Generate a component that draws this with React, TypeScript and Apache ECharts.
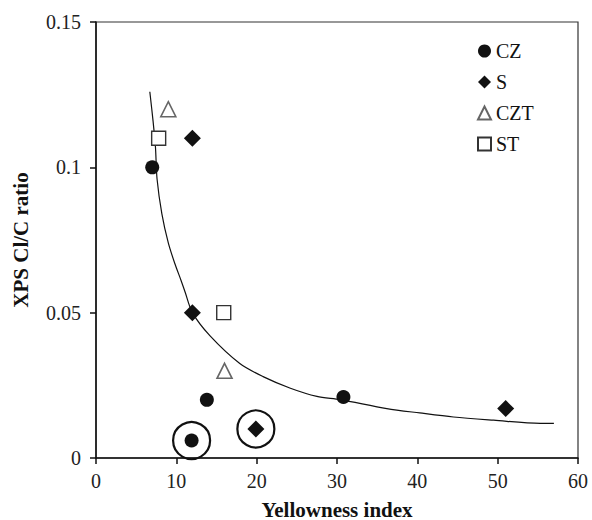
import React, { useEffect, useRef } from "react";
import * as echarts from "echarts";

// Data
const czX = [7.0, 13.8, 11.9, 30.8];
const czY = [0.1, 0.02, 0.006, 0.021];
const sX = [12.0, 12.0, 19.9, 51.0];
const sY = [0.11, 0.05, 0.01, 0.017];
const cztX = [9.0, 16.0];
const cztY = [0.12, 0.03];
const stX = [7.8, 15.9];
const stY = [0.11, 0.05];
const ringX = [11.9, 19.9];
const ringY = [0.006, 0.01];
const curveX = [6.7, 7.1, 7.4, 7.6, 8.2, 9.0, 9.8, 10.6, 11.1, 12.0, 14.2, 17.9, 20.8, 24.2, 27.5, 30.4, 36.2, 40.3, 44.5, 49.5, 55.3, 57.0];
const curveY = [0.126, 0.116, 0.107, 0.096, 0.084, 0.074, 0.067, 0.061, 0.057, 0.05, 0.042, 0.0325, 0.028, 0.024, 0.0212, 0.0201, 0.017, 0.0155, 0.0141, 0.013, 0.0119, 0.0119];
const legendNames = ["CZ", "S", "CZT", "ST"];

const zip = (xs: number[], ys: number[]) => xs.map((x, i) => [x, ys[i]]);

const FONT = "Liberation Serif";

export default function App() {
  const ref = useRef<HTMLDivElement>(null);
  useEffect(() => {
    if (!ref.current) return;
    const chart = echarts.init(ref.current, undefined, { renderer: "svg" });
    chart.setOption({
      animation: false,
      backgroundColor: "#fff",
      textStyle: { fontFamily: FONT },
      grid: {
        left: 96,
        right: 14,
        top: 22,
        bottom: 62,
        outerBoundsMode: "none",
        containLabel: false,
        show: true,
        borderColor: "#333",
        borderWidth: 1.2,
      },
      legend: {
        data: legendNames,
        orient: "vertical",
        left: 477,
        top: 41,
        padding: 0,
        itemWidth: 13,
        itemHeight: 13,
        itemGap: 11,
        textStyle: { fontFamily: FONT, fontSize: 20, color: "#111" },
      },
      xAxis: {
        type: "value",
        min: 0,
        max: 60,
        interval: 10,
        name: "Yellowness index",
        nameLocation: "middle",
        nameGap: 41,
        nameTextStyle: { fontFamily: FONT, fontSize: 21, fontWeight: "bold", color: "#111" },
        axisLine: { show: true, lineStyle: { color: "#111", width: 1.5 } },
        axisTick: { show: true, length: 6, lineStyle: { color: "#111", width: 1.5 } },
        axisLabel: { fontFamily: FONT, fontSize: 20, color: "#222", margin: 13 },
        splitLine: { show: false },
      },
      yAxis: {
        type: "value",
        min: 0,
        max: 0.15,
        interval: 0.05,
        name: "XPS Cl/C ratio",
        nameLocation: "middle",
        nameGap: 65,
        nameTextStyle: { fontFamily: FONT, fontSize: 21, fontWeight: "bold", color: "#111" },
        axisLine: { show: true, lineStyle: { color: "#111", width: 1.5 } },
        axisTick: { show: true, length: 6, lineStyle: { color: "#111", width: 1.5 } },
        axisLabel: { fontFamily: FONT, fontSize: 20, color: "#222", margin: 15 },
        splitLine: { show: false },
      },
      series: [
        {
          name: "fit",
          type: "line",
          data: zip(curveX, curveY),
          smooth: 0.3,
          showSymbol: false,
          lineStyle: { color: "#111", width: 1.2 },
          z: 1,
        },
        {
          name: "CZ",
          type: "scatter",
          symbol: "circle",
          symbolSize: 14,
          data: zip(czX, czY),
          itemStyle: { color: "#111", opacity: 1 },
          z: 3,
        },
        {
          name: "S",
          type: "scatter",
          symbol: "diamond",
          symbolSize: 17,
          data: zip(sX, sY),
          itemStyle: { color: "#111", opacity: 1 },
          z: 3,
        },
        {
          name: "CZT",
          type: "scatter",
          symbol: "triangle",
          symbolSize: 15,
          data: zip(cztX, cztY),
          itemStyle: { color: "#fff", borderColor: "#666", borderWidth: 1.6, opacity: 1 },
          z: 3,
        },
        {
          name: "ST",
          type: "scatter",
          symbol: "rect",
          symbolSize: 14,
          data: zip(stX, stY),
          itemStyle: { color: "#fff", borderColor: "#333", borderWidth: 1.4, opacity: 1 },
          z: 3,
        },
        {
          name: "highlighted",
          type: "scatter",
          symbol: "circle",
          symbolSize: 37,
          data: zip(ringX, ringY),
          itemStyle: { color: "rgba(0,0,0,0)", borderColor: "#111", borderWidth: 2.2, opacity: 1 },
          z: 2,
        },
      ],
    });
    return () => chart.dispose();
  }, []);
  return (
    <div
      ref={ref}
      style={{ position: "absolute", left: 0, top: 0, width: 592, height: 520, background: "#fff" }}
    />
  );
}
